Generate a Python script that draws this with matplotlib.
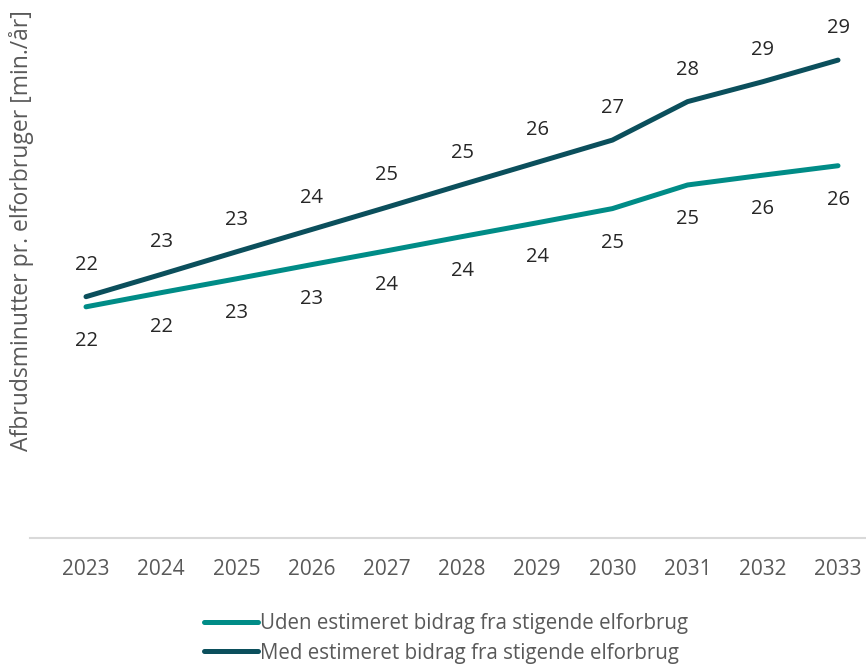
import numpy as np
import matplotlib.pyplot as plt

years = [2023, 2024, 2025, 2026, 2027, 2028, 2029, 2030, 2031, 2032, 2033]
uden = [21.85, 22.27, 22.68, 23.1, 23.51, 23.93, 24.34, 24.76, 25.46, 25.75, 26.03]
med = [22.15, 22.81, 23.48, 24.14, 24.8, 25.47, 26.13, 26.79, 27.93, 28.52, 29.16]

label_uden = 'Uden estimeret bidrag fra stigende elforbrug'
label_med = 'Med estimeret bidrag fra stigende elforbrug'
ylabel = 'Afbrudsminutter pr. elforbruger [min./år]'

c_uden = '#008C87'
c_med = '#0B4F5C'

plt.rcParams['font.family'] = ['Open Sans', 'DejaVu Sans']

fig = plt.figure(figsize=(8.66, 6.64), dpi=100)
ax = fig.add_axes([30/866, 126/664, 836/866, 528/664])

l1, = ax.plot(years, uden, color=c_uden, lw=3.6, solid_capstyle='round')
l2, = ax.plot(years, med, color=c_med, lw=3.6, solid_capstyle='round')

# data labels: below for uden, above for med
for x, v in zip(years, uden):
    ax.annotate(f'{v:.0f}', (x, v), xytext=(0, -24.5), textcoords='offset points',
                ha='center', va='center', fontsize=14.5, color='#262626')
for x, v in zip(years, med):
    ax.annotate(f'{v:.0f}', (x, v), xytext=(0, 23), textcoords='offset points',
                ha='center', va='center', fontsize=14.5, color='#262626')

ax.set_xlim(2023 - 56/75.2, 2033 + 28/75.2)
ax.set_ylim(15, 15 + 528/33.75)
ax.set_xticks(years)
ax.set_xticklabels([str(y) for y in years], fontsize=15, color='#595959')
ax.tick_params(axis='x', length=0, pad=15)
ax.set_yticks([])
for s in ['top', 'right', 'left']:
    ax.spines[s].set_visible(False)
ax.spines['bottom'].set_color('#D9D9D9')
ax.spines['bottom'].set_linewidth(1.5)

fig.text(22/866, 1 - 231/664, ylabel, rotation=90, ha='center', va='center',
         fontsize=16.5, color='#595959')

fig.legend([l1, l2], [label_uden, label_med], loc='upper left',
           bbox_to_anchor=(194/866, 1 - 603/664), frameon=False,
           fontsize=14.8, labelcolor='#595959', handlelength=2.6,
           handletextpad=0.1, labelspacing=0.4, borderpad=0)

fig.savefig('out.png', dpi=100)
